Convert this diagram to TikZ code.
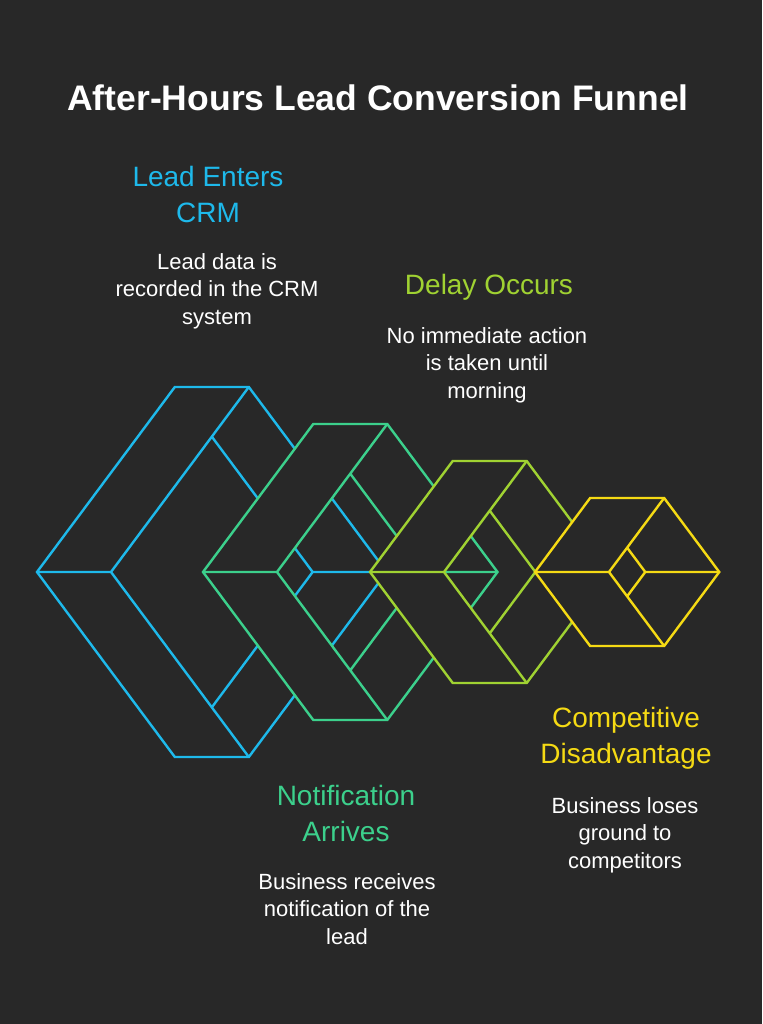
\documentclass[tikz,border=0pt]{standalone}
\usepackage{fontspec}
\setmainfont{Liberation Sans}
\definecolor{bg}{RGB}{40,40,40}
\definecolor{cblue}{RGB}{30,185,235}
\definecolor{cgreen}{RGB}{60,208,140}
\definecolor{cyg}{RGB}{160,210,50}
\definecolor{cyel}{RGB}{245,218,20}
\begin{document}
\begin{tikzpicture}[x=1pt,y=-1pt,
  head/.style={align=center,font=\fontsize{28}{36}\selectfont},
  body/.style={align=center,text=white,font=\fontsize{22}{27.5}\selectfont},
  edge/.style={line width=2.4pt}]
\fill[bg] (0,0) rectangle (762,1024);
\useasboundingbox (0,0) rectangle (762,1024);
\node[text=white,font=\fontsize{35.5}{40}\selectfont\bfseries] (title) at (378,98) {After-Hours Lead Conversion Funnel};
% one cube per stage: left x / half height / colour
\foreach \x/\h/\c in {37/185/cblue,203/148/cgreen,370/111/cyg,535/74/cyel}{
  \pgfmathsetmacro\a{0.745*\h}
  \pgfmathsetmacro\k{1-37/\a}
  \coordinate (L) at (\x,572);
  \coordinate (C) at (\x+74,572);
  \coordinate (TL) at (\x+\a,572-\h);
  \coordinate (TR) at (\x+\a+74,572-\h);
  \coordinate (BL) at (\x+\a,572+\h);
  \coordinate (BR) at (\x+\a+74,572+\h);
  \coordinate (R) at (\x+2*\a+74,572);
  \coordinate (V) at (\x+2*\a,572);
  \coordinate (P) at (\x+74+\k*\a,572-\k*\h);
  \coordinate (Q) at (\x+74+\k*\a,572+\k*\h);
  \fill[bg,even odd rule] (L) -- (TL) -- (TR) -- (R) -- (BR) -- (BL) -- cycle
    (C) -- (P) -- (V) -- (Q) -- cycle;
  \draw[edge,\c] (L) -- (TL) -- (TR) -- (R) -- (BR) -- (BL) -- cycle;
  \draw[edge,\c] (TR) -- (C) -- (BR) (L) -- (C) (P) -- (V) -- (Q) (V) -- (R);
}
\node[head,text=cblue] (h1) at (208,194) {Lead Enters\\CRM};
\node[body] (b1) at (217,291) {Lead data is\\recorded in the CRM\\system};
\node[head,text=cyg] (h2) at (489,287) {Delay Occurs};
\node[body] (b2) at (487,365) {No immediate action\\is taken until\\morning};
\node[head,text=cgreen] (h3) at (346,813) {Notification\\Arrives};
\node[body] (b3) at (347,909) {Business receives\\notification of the\\lead};
\node[head,text=cyel] (h4) at (626,738) {Competitive\\Disadvantage};
\node[body] (b4) at (625,835) {Business loses\\ground to\\competitors};
\end{tikzpicture}
\end{document}
